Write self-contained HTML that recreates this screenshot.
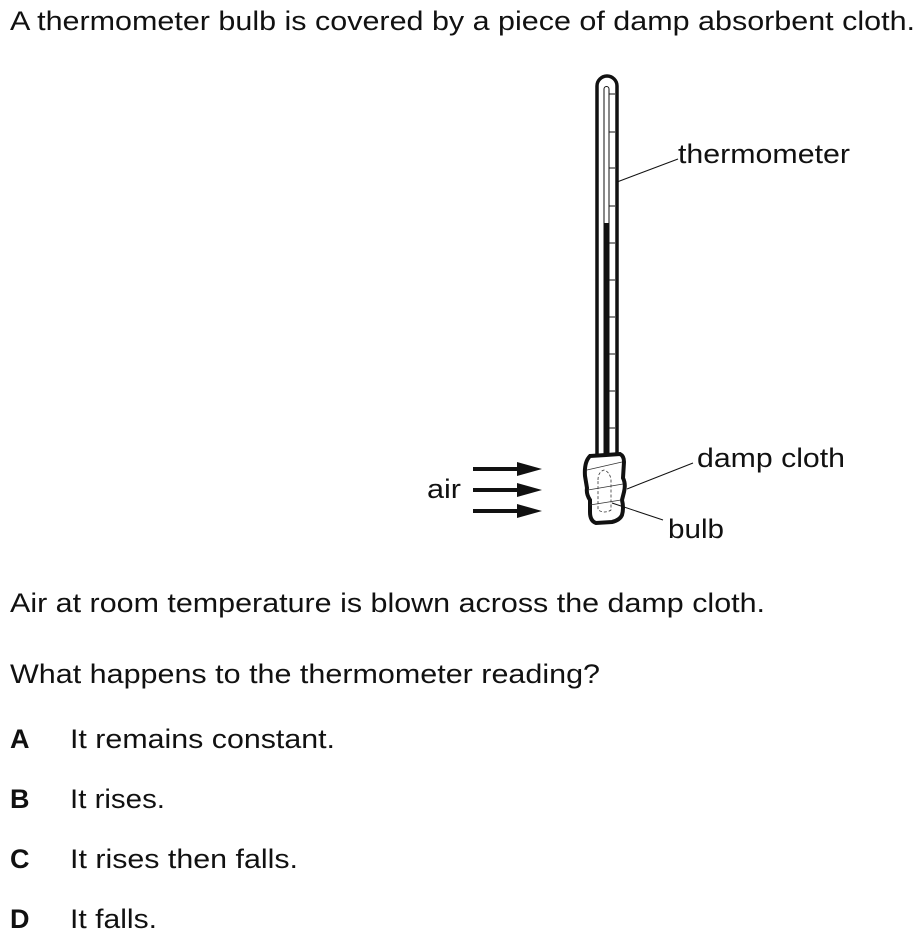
<!DOCTYPE html>
<html><head><meta charset="utf-8"><style>
html,body{margin:0;padding:0;background:#fff;}
svg{display:block;}
text{font-family:"Liberation Sans",Arial,sans-serif;fill:#111;}
</style></head><body>
<svg width="923" height="941" viewBox="0 0 923 941" xmlns="http://www.w3.org/2000/svg">
<text x="10" y="30" font-size="27" textLength="905" lengthAdjust="spacingAndGlyphs">A thermometer bulb is covered by a piece of damp absorbent cloth.</text>

<path d="M597,457 L597,86 A10,10 0 0 1 617,86 L617,457" fill="#fff" stroke="#111" stroke-width="3.5"/>
<path d="M604,457 L604,89 A2.5,2.5 0 0 1 609,89 L609,457" fill="#fff" stroke="#111" stroke-width="1"/>
<rect x="604" y="223" width="5" height="234" fill="#111"/>
<g stroke="#111" stroke-width="1">
<line x1="609" y1="94" x2="615" y2="94"/><line x1="609" y1="132" x2="615" y2="132"/>
<line x1="609" y1="168" x2="615" y2="168"/><line x1="609" y1="206" x2="615" y2="206"/>
<line x1="609" y1="243" x2="615" y2="243"/><line x1="609" y1="280" x2="615" y2="280"/>
<line x1="609" y1="317" x2="615" y2="317"/><line x1="609" y1="354" x2="615" y2="354"/>
<line x1="609" y1="391" x2="615" y2="391"/><line x1="609" y1="428" x2="615" y2="428"/>
</g>
<path d="M590,456 L606,455 L620,454 Q624,456 624,462 L623,478 Q626,484 624,492 L622,500 Q624,508 622,515 Q620,520 612,522 L596,523 Q590,521 590,512 L590,500 Q586,494 587,488 L585,476 Q584,462 590,456 Z" fill="#fff" stroke="#111" stroke-width="4"/>
<g stroke="#333" stroke-width="0.8" fill="none" stroke-dasharray="3,2">
<path d="M598,480 Q598,472 604,470 Q610,472 611,480 L611,510 Q605,514 598,510 Z"/>
</g>
<g stroke="#333" stroke-width="0.8" fill="none">
<path d="M587,470 L622,462"/><path d="M588,490 L623,484"/><path d="M590,505 L621,500"/>
</g>
<g fill="#111">
<rect x="473" y="467" width="45" height="4"/><polygon points="517,462 542,469 517,476"/>
<rect x="473" y="488" width="45" height="4"/><polygon points="517,483 542,490 517,497"/>
<rect x="473" y="509" width="45" height="4"/><polygon points="517,504 542,511 517,518"/>
</g>
<g stroke="#111" stroke-width="1">
<line x1="617" y1="182" x2="678" y2="159"/>
<line x1="627" y1="489" x2="693" y2="463"/>
<line x1="612" y1="503" x2="663" y2="520"/>
</g>
<text x="678" y="163" font-size="27" textLength="172" lengthAdjust="spacingAndGlyphs">thermometer</text>
<text x="697" y="467" font-size="27" textLength="148" lengthAdjust="spacingAndGlyphs">damp cloth</text>
<text x="668" y="538" font-size="27" textLength="56" lengthAdjust="spacingAndGlyphs">bulb</text>
<text x="427" y="498" font-size="27" textLength="34" lengthAdjust="spacingAndGlyphs">air</text>

<text x="10" y="612" font-size="27" textLength="755" lengthAdjust="spacingAndGlyphs">Air at room temperature is blown across the damp cloth.</text>
<text x="10" y="683" font-size="27" textLength="590" lengthAdjust="spacingAndGlyphs">What happens to the thermometer reading?</text>
<g font-size="27">
<text x="10" y="748" font-weight="bold">A</text><text x="70" y="748" textLength="265" lengthAdjust="spacingAndGlyphs">It remains constant.</text>
<text x="10" y="808" font-weight="bold">B</text><text x="70" y="808" textLength="95" lengthAdjust="spacingAndGlyphs">It rises.</text>
<text x="10" y="868" font-weight="bold">C</text><text x="70" y="868" textLength="228" lengthAdjust="spacingAndGlyphs">It rises then falls.</text>
<text x="10" y="928" font-weight="bold">D</text><text x="70" y="928" textLength="87" lengthAdjust="spacingAndGlyphs">It falls.</text>
</g>
</svg>
</body></html>
